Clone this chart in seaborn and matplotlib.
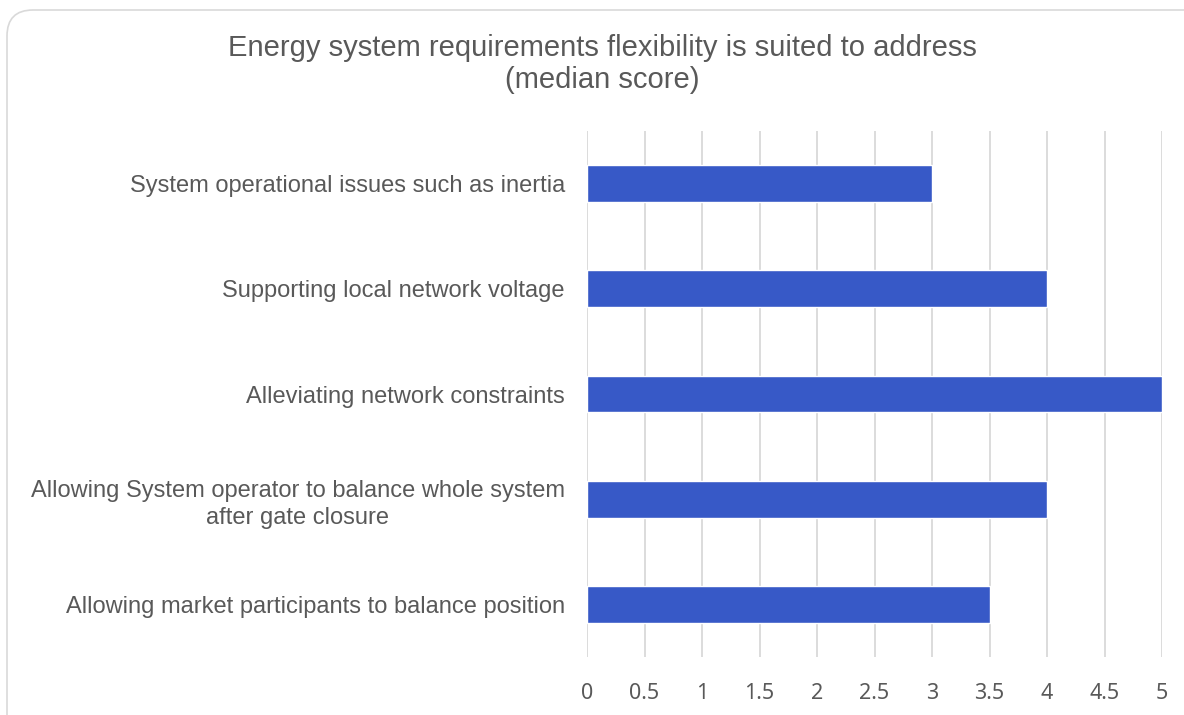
import matplotlib
matplotlib.use("Agg")
import matplotlib.pyplot as plt
from matplotlib.patches import FancyBboxPatch
import seaborn as sns
import pandas as pd

categories = [
    "System operational issues such as inertia",
    "Supporting local network voltage",
    "Alleviating network constraints",
    "Allowing System operator to balance whole system\nafter gate closure",
    "Allowing market participants to balance position",
]
median_scores = [3, 4, 5, 4, 3.5]
x_ticks = [0, 0.5, 1, 1.5, 2, 2.5, 3, 3.5, 4, 4.5, 5]
x_tick_labels = ["0", "0.5", "1", "1.5", "2", "2.5", "3", "3.5", "4", "4.5", "5"]
title = "Energy system requirements flexibility is suited to address\n(median score)"

df = pd.DataFrame({"requirement": categories, "score": median_scores})

sns.set_theme(style="white")
plt.rcParams["font.family"] = ["Liberation Sans", "DejaVu Sans"]

W, H = 1184, 715
fig = plt.figure(figsize=(W / 100, H / 100), dpi=100)
ax = fig.add_axes([587 / W, 1 - 657 / H, 575 / W, 526 / H])

# rounded chart frame, running off the right and bottom edges
top = 1 - 10 / H
frame = FancyBboxPatch((7 / W, -0.5), 1.2, top + 0.5,
                       boxstyle="round,pad=0,rounding_size=0.022",
                       transform=fig.transFigure, facecolor="none",
                       edgecolor="#D9D9D9", linewidth=1.2, zorder=0,
                       mutation_aspect=W / H)
fig.patches.append(frame)

sns.barplot(data=df, x="score", y="requirement", orient="h", color="#3759C7",
            saturation=1, width=0.35, ax=ax, zorder=3)

ax.set_xlim(0, 5)
ax.set_ylim(4.5, -0.5)
ax.set_xticks(x_ticks)
ax.set_xticklabels(x_tick_labels, family=["Noto Sans", "DejaVu Sans"], fontsize=15.5,
                   color="#595959")
ax.tick_params(axis="x", length=0, pad=19)
ax.tick_params(axis="y", length=0, pad=16, labelsize=17, labelcolor="#595959")
for lbl in ax.get_yticklabels():
    lbl.set_horizontalalignment("right")
    lbl.set_multialignment("center")
    lbl.set_linespacing(1.34)
ax.grid(axis="x", color="#D9D9D9", linewidth=1.3, zorder=0)
ax.set_axisbelow(True)
ax.set_xlabel("")
ax.set_ylabel("")
for s in ax.spines.values():
    s.set_visible(False)

fig.text(602 / W, 1 - 64 / H, title, ha="center", va="center",
         fontsize=21, color="#595959", linespacing=1.17)

fig.savefig("out.png", dpi=100)
